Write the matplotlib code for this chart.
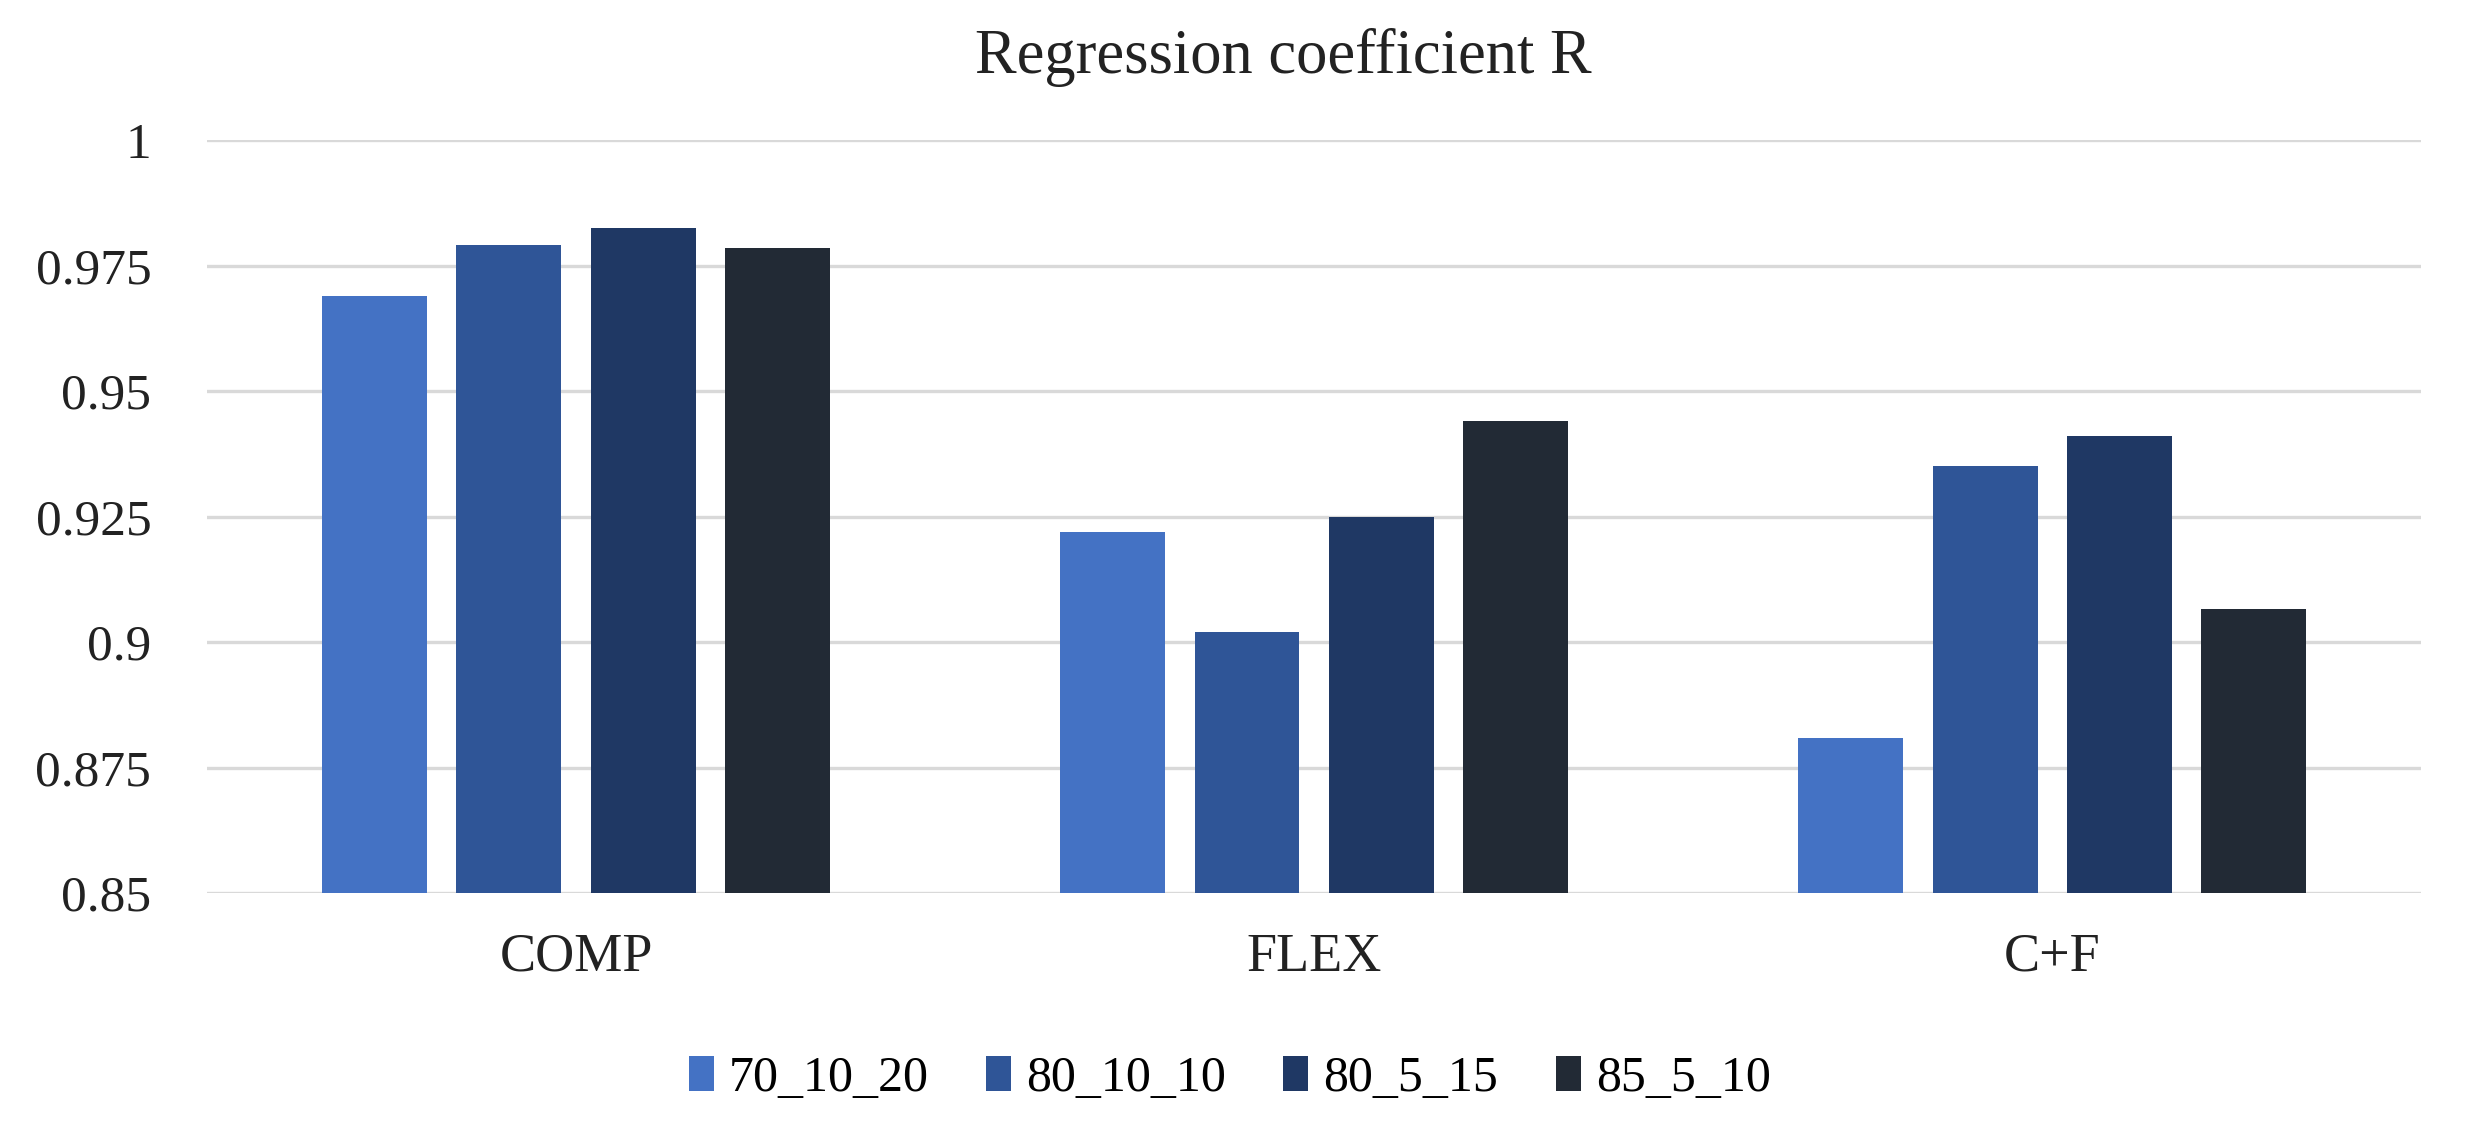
import numpy as np
import matplotlib.pyplot as plt

plt.rcParams['font.family'] = ['Liberation Serif', 'DejaVu Serif']

categories = ['COMP', 'FLEX', 'C+F']
series = ['70_10_20', '80_10_10', '80_5_15', '85_5_10']
r_70_10_20 = [0.969, 0.922, 0.881]
r_80_10_10 = [0.979, 0.902, 0.935]
r_80_5_15 = [0.9825, 0.925, 0.941]
r_85_5_10 = [0.9785, 0.944, 0.9065]
yticks = [0.85, 0.875, 0.9, 0.925, 0.95, 0.975, 1]
ytick_labels = ['0.85', '0.875', '0.9', '0.925', '0.95', '0.975', '1']

colors = ['#4472C4', '#2F5597', '#1F3864', '#222A35']
values = [r_70_10_20, r_80_10_10, r_80_5_15, r_85_5_10]

fig = plt.figure(figsize=(24.84, 11.48), dpi=100)
ax = fig.add_axes([0.0833, 0.222, 0.8915, 0.656])

x = np.arange(len(categories))
step = 0.182
width = 0.142
for i, (name, vals) in enumerate(zip(series, values)):
    ax.bar(x + (i - 1.5) * step, vals, width, color=colors[i], label=name, zorder=3)

ax.set_xlim(-0.5, len(categories) - 0.5)
ax.set_ylim(0.85, 1.0)
ax.set_yticks(yticks)
ax.set_yticklabels(ytick_labels)
ax.set_xticks(x)
ax.set_xticklabels(categories)
ax.tick_params(axis='both', length=0, colors='#222222')
ax.tick_params(axis='y', pad=40, labelsize=37)
ax.tick_params(axis='x', pad=28, labelsize=39)
ax.grid(axis='y', color='#D9D9D9', lw=2.4, zorder=0)
for s in ax.spines.values():
    s.set_visible(False)

ax.set_title('Regression coefficient R', fontsize=45, pad=48, color='#222222', x=0.486)

fig.legend(loc='center', bbox_to_anchor=(0.495, 0.06), ncol=4, frameon=False,
           fontsize=36, handlelength=0.5, handleheight=0.7, handletextpad=0.3,
           columnspacing=1.15)

fig.savefig('out.png', dpi=100)
